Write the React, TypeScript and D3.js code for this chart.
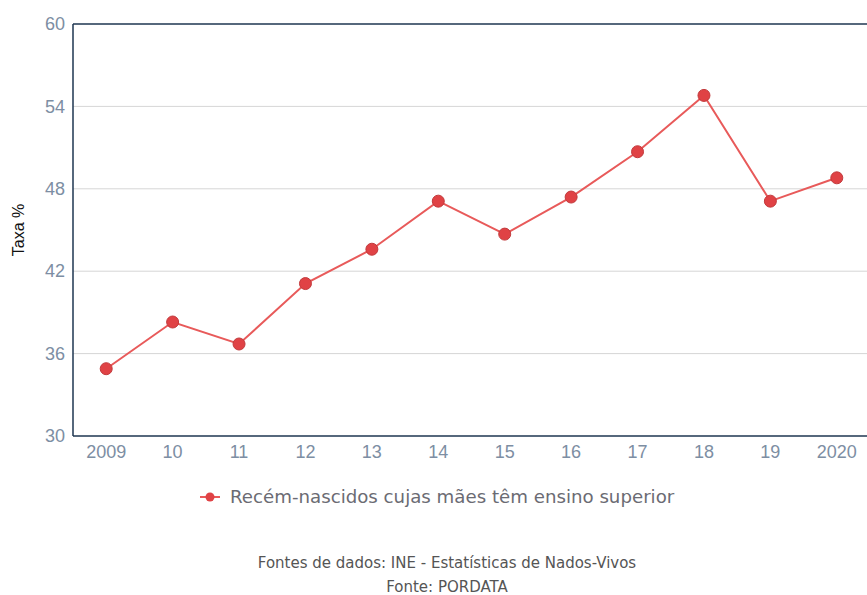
import React, { useEffect, useRef } from 'react';
import * as d3 from 'd3';

const years = ['2009', '10', '11', '12', '13', '14', '15', '16', '17', '18', '19', '2020'];
const rates = [34.9, 38.3, 36.7, 41.1, 43.6, 47.1, 44.7, 47.4, 50.7, 54.8, 47.1, 48.8];
const yTicks = [30, 36, 42, 48, 54, 60];
const seriesName = 'Recém-nascidos cujas mães têm ensino superior';
const sourceLines = ['Fontes de dados: INE - Estatísticas de Nados-Vivos', 'Fonte: PORDATA'];

const App = () => {
  const ref = useRef<SVGSVGElement>(null);

  useEffect(() => {
    const width = 867;
    const height = 595;
    const margin = { top: 24, right: -3, bottom: 159, left: 73 };
    const innerWidth = width - margin.left - margin.right;
    const innerHeight = height - margin.top - margin.bottom;

    const svg = d3.select(ref.current);
    svg.selectAll('*').remove();

    const g = svg.append('g').attr('transform', `translate(${margin.left},${margin.top})`);

    const x = d3.scaleBand().domain(years).range([0, innerWidth]).padding(0);
    const y = d3.scaleLinear().domain([30, 60]).range([innerHeight, 0]);

    // gridlines
    g.selectAll('line.grid')
      .data(yTicks.slice(1, -1))
      .join('line')
      .attr('class', 'grid')
      .attr('x1', 0)
      .attr('x2', innerWidth)
      .attr('y1', (d) => y(d))
      .attr('y2', (d) => y(d))
      .attr('stroke', '#d6d6d6')
      .attr('stroke-width', 1);

    // frame
    const frame = '#1e3650';
    g.append('line').attr('x1', 0).attr('x2', innerWidth).attr('y1', 0).attr('y2', 0)
      .attr('stroke', frame).attr('stroke-width', 1.5);
    g.append('line').attr('x1', 0).attr('x2', innerWidth).attr('y1', innerHeight).attr('y2', innerHeight)
      .attr('stroke', frame).attr('stroke-width', 1.5);
    g.append('line').attr('x1', 0).attr('x2', 0).attr('y1', 0).attr('y2', innerHeight)
      .attr('stroke', frame).attr('stroke-width', 1.5);

    // y labels
    const yAxis = g.append('g').call(d3.axisLeft(y).tickValues(yTicks).tickSize(0).tickPadding(8));
    yAxis.select('.domain').remove();
    yAxis.selectAll('text')
      .attr('fill', '#7d8ea3')
      .attr('font-size', 18)
      .attr('font-family', 'Liberation Sans, Arial, sans-serif');

    // x labels
    const xAxis = g.append('g')
      .attr('transform', `translate(0,${innerHeight})`)
      .call(d3.axisBottom(x).tickSize(0).tickPadding(9));
    xAxis.select('.domain').remove();
    xAxis.selectAll('text')
      .attr('fill', '#7d8ea3')
      .attr('font-size', 18)
      .attr('font-family', 'Liberation Sans, Arial, sans-serif');

    // line + points
    const cx = (i: number) => (x(years[i]) as number) + x.bandwidth() / 2;
    const line = d3.line<number>().x((d, i) => cx(i)).y((d) => y(d));
    g.append('path')
      .datum(rates)
      .attr('d', line)
      .attr('fill', 'none')
      .attr('stroke', '#e85a5a')
      .attr('stroke-width', 2);

    g.selectAll('circle')
      .data(rates)
      .join('circle')
      .attr('cx', (d, i) => cx(i))
      .attr('cy', (d) => y(d))
      .attr('r', 6)
      .attr('fill', '#e04245')
      .attr('stroke', '#c23a3c')
      .attr('stroke-width', 1);

    // y title
    svg.append('text')
      .attr('transform', `translate(24,${margin.top + innerHeight / 2}) rotate(-90)`)
      .attr('text-anchor', 'middle')
      .attr('font-size', 16)
      .attr('fill', '#111')
      .attr('font-family', 'Liberation Sans, Arial, sans-serif')
      .text('Taxa %');

    // legend
    const legend = svg.append('g').attr('transform', 'translate(200,497)');
    legend.append('line').attr('x1', 0).attr('x2', 20).attr('y1', 0).attr('y2', 0)
      .attr('stroke', '#e85a5a').attr('stroke-width', 2);
    legend.append('circle').attr('cx', 10).attr('cy', 0).attr('r', 4.5)
      .attr('fill', '#e04245');
    legend.append('text')
      .attr('x', 30)
      .attr('y', 0)
      .attr('dy', '0.35em')
      .attr('font-size', 18.2)
      .attr('fill', '#6b6b73')
      .attr('font-family', 'DejaVu Sans, sans-serif')
      .text(seriesName);

    // sources
    svg.selectAll('text.source')
      .data(sourceLines)
      .join('text')
      .attr('class', 'source')
      .attr('x', 447)
      .attr('y', (d, i) => 563 + i * 24)
      .attr('dy', '0.35em')
      .attr('text-anchor', 'middle')
      .attr('font-size', 15)
      .attr('fill', '#555')
      .attr('font-family', 'DejaVu Sans, sans-serif')
      .text((d) => d);
  }, []);

  return (
    <svg
      ref={ref}
      width={867}
      height={595}
      style={{ position: 'absolute', left: 0, top: 0, background: '#fff' }}
    />
  );
};

export default App;
